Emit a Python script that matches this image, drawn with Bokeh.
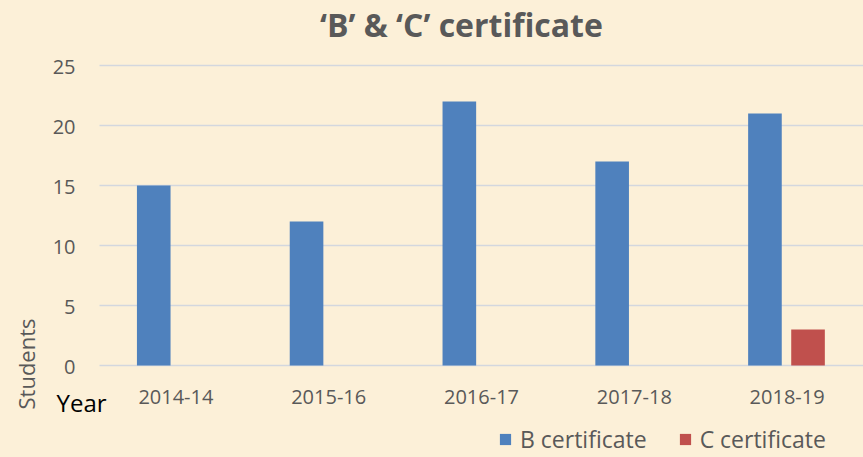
import math
import numpy as np
from bokeh.plotting import figure
from bokeh.models import (Range1d, ColumnDataSource, Legend, LegendItem,
                          GlobalInlineStyleSheet)
from bokeh.core.properties import value
from bokeh.embed import file_html
from bokeh.resources import INLINE

# ---- data ----
years = ["2014-14", "2015-16", "2016-17", "2017-18", "2018-19"]
b_certificate = [15, 12, 22, 17, 21]
c_certificate = [0, 0, 0, 0, 3]
y_ticks = [0, 5, 10, 15, 20, 25]

FONT = value("Open Sans")
TXT = "#595959"
BG = "#FCF0D8"

# category slots: centre of slot i is i + 0.5 (plot area spans 0..5)
pos = np.arange(len(years)) + 0.5
src = ColumnDataSource(dict(year=years, xb=pos - 0.145, xc=pos + 0.137,
                            xl=pos, b=b_certificate, c=c_certificate))
tick_src = ColumnDataSource(dict(y=y_ticks, lab=[str(t) for t in y_ticks]))

# whole canvas is the drawing area; plot area 0..5 x 0..25 sits inside it
p = figure(width=863, height=457, output_backend="svg", toolbar_location=None,
           x_range=Range1d(-99 / 152.8, 5.0), y_range=Range1d(-92 / 12, 365 / 12),
           min_border=0, x_axis_location=None, y_axis_location=None, title=None)
p.stylesheets = [GlobalInlineStyleSheet(css="body { margin: 0; background: %s; }" % BG)]
p.background_fill_color = BG
p.border_fill_color = BG
p.outline_line_color = None
p.grid.visible = False

# horizontal gridlines at the y ticks, across the plot area
p.segment(x0=0, x1=len(years), y0="y", y1="y", source=tick_src,
          line_color="#D3D7DE", line_width=1.5)

rb = p.vbar(x="xb", top="b", width=0.22, source=src,
            fill_color="#4F81BD", line_color=None)
rc = p.vbar(x="xc", top="c", width=0.22, source=src,
            fill_color="#C0504D", line_color=None)

# y tick labels
p.text(x=0, y="y", text="lab", source=tick_src, x_offset=-24, y_offset=1,
       text_font=FONT, text_font_size="20px", text_color=TXT,
       text_align="right", text_baseline="alphabetic")
# x category labels
p.text(x="xl", y=0, text="year", source=src, y_offset=31,
       text_font=FONT, text_font_size="20px", text_color=TXT,
       text_align="center", text_baseline="alphabetic")

# title
p.text(x=[2.369], y=[28.42], text=["\u2018B\u2019 & \u2018C\u2019 certificate"],
       text_font=FONT, text_font_size="32px", text_font_style="bold",
       text_color=TXT, text_align="center", text_baseline="alphabetic")
# vertical axis title
p.text(x=[-0.484], y=[0.125], text=["Students"], angle=math.pi / 2,
       text_font=FONT, text_font_size="22px", text_color=TXT,
       text_align="center", text_baseline="alphabetic")
# horizontal axis title
p.text(x=[-0.2814], y=[-3.06], text=["Year"],
       text_font=FONT, text_font_size="24px", text_color="#000000",
       text_align="left", text_baseline="alphabetic")

legend = Legend(items=[LegendItem(label="B certificate", renderers=[rb]),
                       LegendItem(label="C certificate", renderers=[rc])],
                orientation="horizontal", location=(498, 2),
                label_text_font="Open Sans", label_text_font_size="23px",
                label_text_color=TXT, glyph_width=14, glyph_height=14,
                label_standoff=8, spacing=31, padding=0, margin=0,
                background_fill_alpha=0, border_line_color=None)
p.add_layout(legend, "center")

open("out.html", "w").write(file_html(p, INLINE))
